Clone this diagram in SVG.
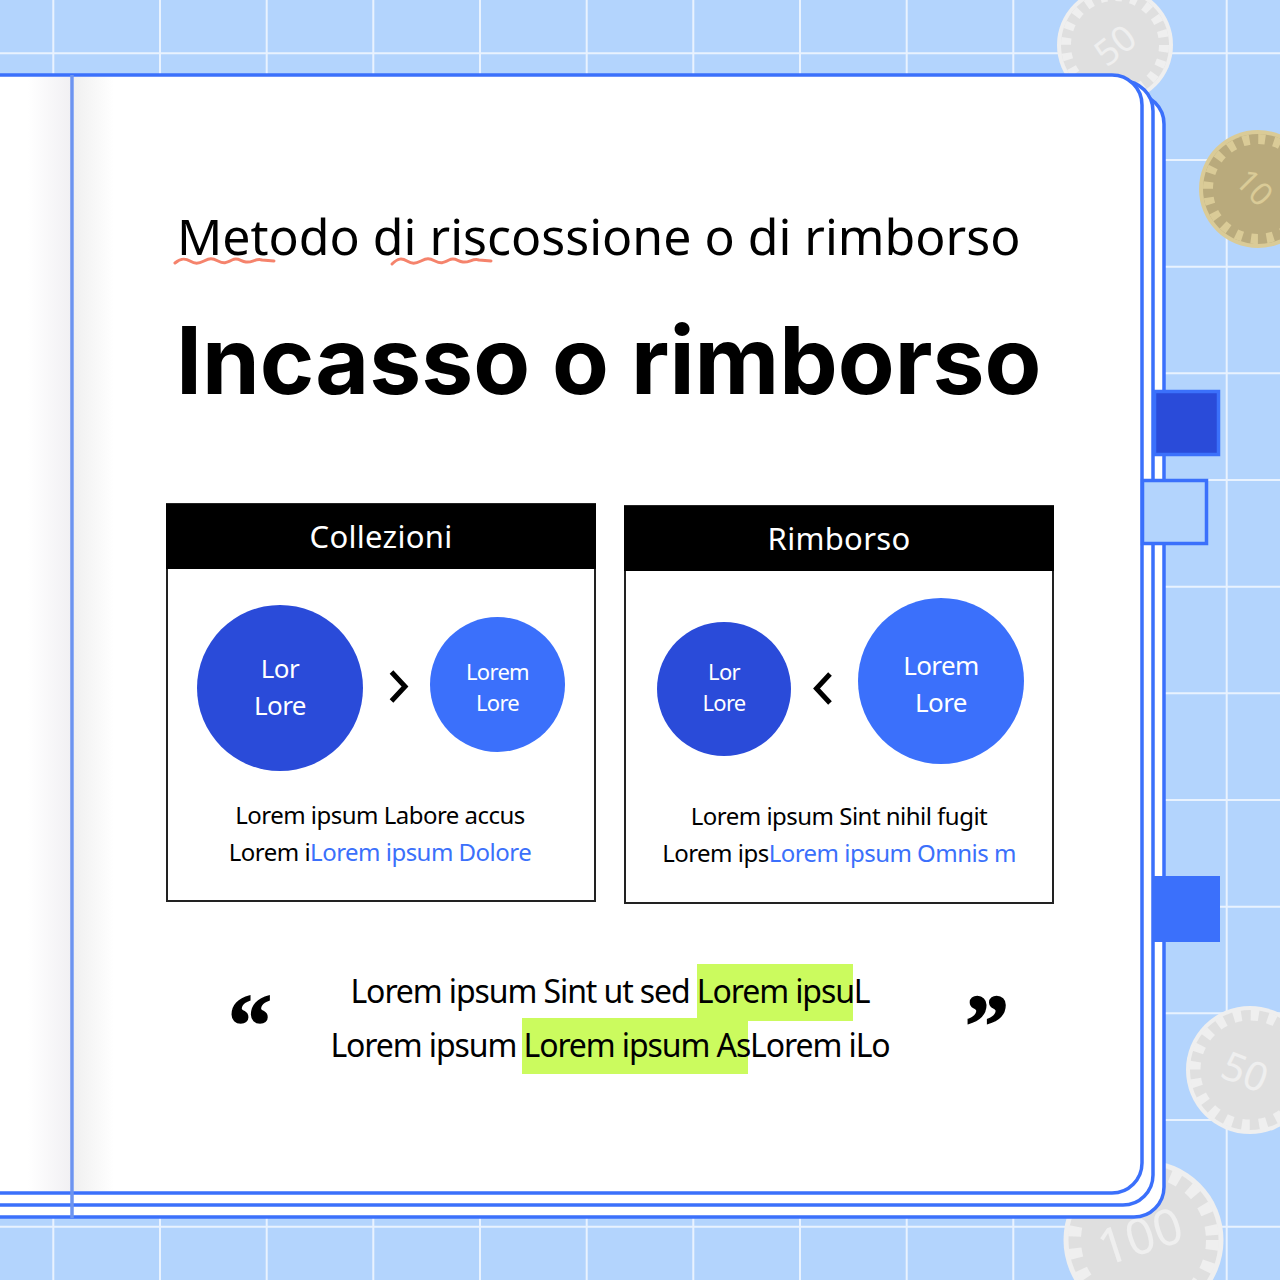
<svg xmlns="http://www.w3.org/2000/svg" width="1280" height="1280" viewBox="0 0 1280 1280">
<style>
.t{font-family:"Noto Sans",sans-serif;fill:#000}
.w{font-family:"Noto Sans",sans-serif;fill:#fff;text-anchor:middle}
.b{fill:#3b70fb}
.grid{stroke:#e9f2fe;stroke-width:2}
.page{fill:#fff;stroke:#3b70fb;stroke-width:3.5}
.coinG{fill:#efefef}.coinGi{fill:#dfdfdf}.tickG{fill:none;stroke:#efefef}
.coinY{fill:#dacb97}.coinYi{fill:#b9aa7c}.tickY{fill:none;stroke:#dacb97}
.cn{font-family:"Noto Sans",sans-serif;text-anchor:middle}
.sq{fill:none;stroke:#f5836c;stroke-width:3;stroke-linecap:round;stroke-linejoin:round}
.box{fill:#fff;stroke:#222;stroke-width:2}
.chev{fill:none;stroke:#000;stroke-width:5}
.hl{fill:#cbfb5e}
.s24{font-size:24px;letter-spacing:-.52px;text-anchor:middle}
.s32{font-size:32px;letter-spacing:-1.1px;text-anchor:middle}
.s22{font-size:22px;letter-spacing:-.7px}
.s26{font-size:26px;letter-spacing:-.6px}
.qm{font-family:"Liberation Serif",serif;font-weight:700;font-size:88px;text-anchor:middle;stroke:#000;stroke-width:1.5}
</style>
<defs>
<linearGradient id="sl" x1="0" x2="1" y1="0" y2="0"><stop offset="0" stop-color="#f1f0f3" stop-opacity="0"/><stop offset="1" stop-color="#f1f0f3"/></linearGradient>
<linearGradient id="sr" x1="0" x2="1" y1="0" y2="0"><stop offset="0" stop-color="#f0f0f0"/><stop offset="1" stop-color="#f0f0f0" stop-opacity="0"/></linearGradient>
</defs>
<rect id="background" width="1280" height="1280" fill="#b3d4fd"/>
<g id="grid" class="grid">
<path d="M53.300 0V1280M160 0V1280M266.700 0V1280M373.300 0V1280M480 0V1280M586.700 0V1280M693.300 0V1280M800 0V1280M906.700 0V1280M1013.300 0V1280M1120 0V1280M1226.700 0V1280"/>
<path d="M0 53.300H1280M0 160H1280M0 266.700H1280M0 373.300H1280M0 480H1280M0 586.700H1280M0 693.300H1280M0 800H1280M0 906.700H1280M0 1013.300H1280M0 1120H1280M0 1226.700H1280"/>
</g>
<g id="coin-50-top">
<circle class="coinG" cx="1115" cy="45" r="58"/><circle class="coinGi" cx="1115" cy="45" r="54"/><circle class="tickG" cx="1115" cy="45" r="49" stroke-width="10" stroke-dasharray="7 8.400"/>
<text class="cn" x="1115" y="45" font-size="36" fill="#efefef" transform="rotate(-38 1115 45)" dy="13">50</text>
</g>
<g id="coin-10">
<circle class="coinY" cx="1258" cy="189" r="59"/><circle class="coinYi" cx="1258" cy="189" r="55"/><circle class="tickY" cx="1258" cy="189" r="50" stroke-width="10" stroke-dasharray="7 8.700"/>
<text class="cn" x="1255" y="187" font-size="32" fill="#dacb97" transform="rotate(45 1255 187)" dy="12">10</text>
</g>
<g id="coin-50-bottom">
<circle class="coinG" cx="1250" cy="1070" r="64"/><circle class="coinGi" cx="1250" cy="1070" r="60"/><circle class="tickG" cx="1250" cy="1070" r="55" stroke-width="11" stroke-dasharray="8 9.300"/>
<text class="cn" x="1245" y="1072" font-size="40" fill="#efefef" transform="rotate(22 1245 1072)" dy="14">50</text>
</g>
<g id="coin-100">
<circle class="coinG" cx="1143.500" cy="1240" r="80"/><circle class="coinGi" cx="1143.500" cy="1240" r="75"/><circle class="tickG" cx="1143.500" cy="1240" r="69" stroke-width="13" stroke-dasharray="10 12"/>
<text class="cn" x="1140" y="1236" font-size="50" fill="#efefef" transform="rotate(-18 1140 1236)" dy="18">100</text>
</g>
<g id="book">
<rect class="page" x="-40" y="94" width="1204" height="1123" rx="30"/>
<rect class="page" x="-40" y="81" width="1193" height="1124" rx="30"/>
<rect class="page" x="-40" y="75" width="1182" height="1118" rx="30"/>
<rect x="28" y="77" width="43" height="1114" fill="url(#sl)"/>
<rect x="74" y="77" width="40" height="1114" fill="url(#sr)"/>
<path d="M72 75V1218" stroke="#6d94f0" stroke-width="3.500" fill="none"/>
</g>
<g id="tab-dark"><rect x="1154.500" y="391.500" width="64" height="63" fill="#2a4bd9" stroke="#3b70fb" stroke-width="3.500"/></g>
<g id="tab-light"><rect x="1142.500" y="480.500" width="64" height="63" fill="#b3d4fd" stroke="#3b70fb" stroke-width="3.500"/></g>
<g id="tab-blue"><rect class="b" x="1152" y="876" width="68" height="66"/></g>
<g id="title">
<text class="t" x="177" y="255" font-size="50" letter-spacing="0">Metodo di riscossione o di rimborso</text>
<path class="sq" d="M175 263C181 258 185 258 190 261S198 264 204 261S212 258 218 261S226 263 232 260S240 261 246 262S256 258 262 260L274 261"/>
<path class="sq" d="M392 264C398 258 402 258 407 261S415 264 421 261S429 258 435 261S443 263 449 260S457 261 463 262S473 258 479 260L491 261"/>
</g>
<g id="heading"><text x="176" y="394" font-family="Inter,sans-serif" font-weight="700" font-size="92.800">Incasso o rimborso</text></g>
<g id="card-collezioni">
<rect class="box" x="167" y="504" width="428" height="397"/>
<rect x="166" y="504" width="430" height="65" fill="#000"/>
<text class="w" x="381" y="548" font-size="31" letter-spacing=".3">Collezioni</text>
<text class="t s24" x="380" y="824">Lorem ipsum Labore accus</text>
<text class="t s24" x="380" y="861">Lorem i<tspan class="b">Lorem ipsum Dolore</tspan></text>
</g>
<g id="circle-l1"><circle cx="280" cy="688" r="83" fill="#2a4bd9"/><text class="w s26" x="280" y="678">Lor</text><text class="w s26" x="280" y="715">Lore</text></g>
<g id="circle-l2"><circle class="b" cx="497.500" cy="684.500" r="67.500"/><text class="w s22" x="497.500" y="680">Lorem</text><text class="w s22" x="497.500" y="711">Lore</text></g>
<g id="card-rimborso">
<rect class="box" x="625" y="506" width="428" height="397"/>
<rect x="624" y="506" width="430" height="65" fill="#000"/>
<text class="w" x="839" y="550" font-size="31" letter-spacing=".3">Rimborso</text>
<text class="t s24" x="839" y="825">Lorem ipsum Sint nihil fugit</text>
<text class="t s24" x="839" y="862">Lorem ips<tspan class="b">Lorem ipsum Omnis m</tspan></text>
</g>
<g id="circle-r1"><circle cx="724" cy="689" r="67" fill="#2a4bd9"/><text class="w s22" x="724" y="680">Lor</text><text class="w s22" x="724" y="711">Lore</text></g>
<g id="circle-r2"><circle class="b" cx="941" cy="681" r="83"/><text class="w s26" x="941" y="675">Lorem</text><text class="w s26" x="941" y="712">Lore</text></g>
<g id="connectors">
<path class="chev" d="M391.500 672L405 686.500L391.500 701"/>
<path class="chev" d="M830 674L816.500 688.500L830 703"/>
</g>
<g id="quote">
<rect class="hl" x="697" y="964" width="156" height="57"/>
<rect class="hl" x="522" y="1018" width="226" height="56"/>
<text class="t s32" x="610" y="1003">Lorem ipsum Sint ut sed Lorem ipsuL</text>
<text class="t s32" x="610" y="1057">Lorem ipsum Lorem ipsum AsLorem iLo</text>
<text class="qm" x="250" y="1055">“</text>
<text class="qm" x="987" y="1055">”</text>
</g>
</svg>
